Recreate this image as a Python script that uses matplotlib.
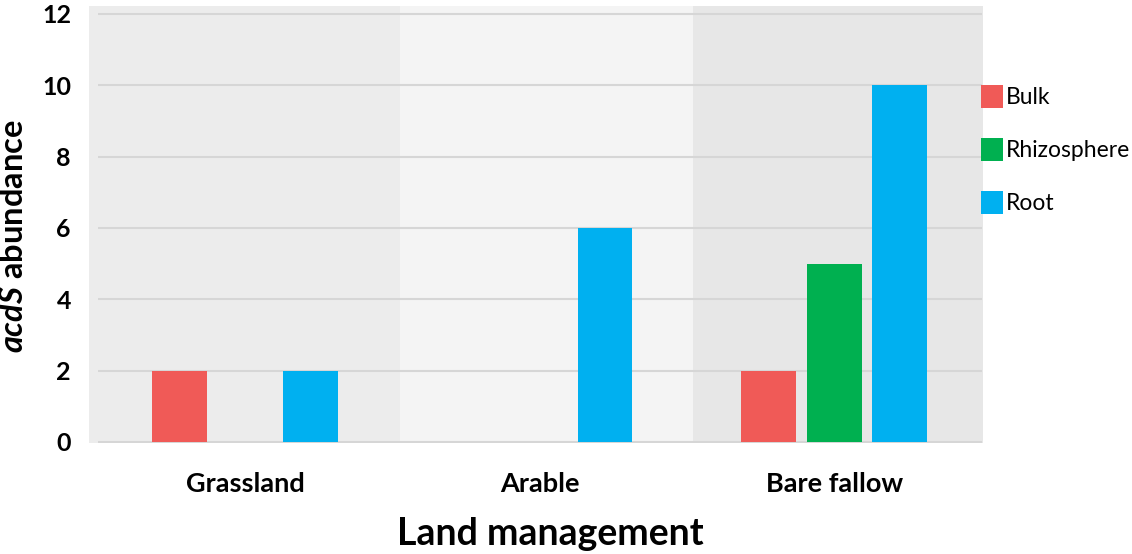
import numpy as np
import matplotlib
matplotlib.use("Agg")
import matplotlib.pyplot as plt
from matplotlib.patches import Patch

# ---
# data
# ---
groups = ["Grassland", "Arable", "Bare fallow"]
series = ["Bulk", "Rhizosphere", "Root"]
bulk = [2, 0, 2]
rhizosphere = [0, 0, 5]
root = [2, 6, 10]
y_ticks = [0, 2, 4, 6, 8, 10, 12]

colors = ["#f05a57", "#00b050", "#00b0f0"]
band_colors = ["#ececec", "#f4f4f4", "#e7e7e7"]

plt.rcParams['font.family'] = ['Lato', 'DejaVu Sans']
plt.rcParams['mathtext.fontset'] = 'custom'
plt.rcParams['mathtext.bfit'] = 'Lato:italic:bold'

fig = plt.figure(figsize=(11.32, 5.54), dpi=100)
ax = fig.add_axes([89 / 1132, 1 - 443 / 554, (983 - 89) / 1132, (443 - 6) / 554])

x = np.arange(len(groups))
width = 0.186
step = 0.222

# shaded band behind each group
edges = [-0.53, 0.525, 1.52, 2.505]
for i in range(len(groups)):
    ax.axvspan(edges[i], edges[i + 1], color=band_colors[i], lw=0, zorder=0)

# gridlines
ax.hlines(y_ticks, -0.50, 2.5, color="#d6d6d6", lw=1.5, zorder=1)

for k, vals in enumerate([bulk, rhizosphere, root]):
    ax.bar(x + (k - 1) * step, vals, width=width, color=colors[k], zorder=2)

ax.set_xlim(-0.53, 2.505)
ax.set_ylim(-0.03, 12.22)
ax.set_yticks(y_ticks)
ax.set_xticks(x)
ax.set_xticklabels(groups, fontsize=19.5, fontweight="bold")
ax.set_yticklabels([str(t) for t in y_ticks], fontsize=18, fontweight="bold")
ax.tick_params(axis="y", length=0, pad=13)
ax.tick_params(axis="x", length=0, pad=21)
for s in ax.spines.values():
    s.set_visible(False)

ax.set_xlabel("Land management", fontsize=27, fontweight="bold", labelpad=15)
ax.xaxis.label.set_x(0.516)
ax.set_ylabel(r"$\mathbfit{acdS}$ abundance", fontsize=23.5, fontweight="bold")
ax.yaxis.set_label_coords(-0.068, 0.473)

handles = [Patch(facecolor=c, edgecolor="none") for c in colors]
fig.legend(handles, series, loc="upper left", bbox_to_anchor=(972 / 1132, 1 - 76 / 554),
           frameon=False, fontsize=16.5, handlelength=0.95, handleheight=1.15,
           handletextpad=0.15, labelspacing=1.3, borderaxespad=0)

fig.savefig("out.png", dpi=100)
